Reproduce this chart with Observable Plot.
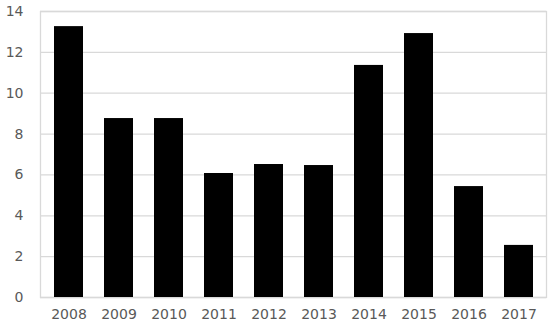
<!DOCTYPE html>
<html><head><meta charset="utf-8">
<script src="https://cdn.jsdelivr.net/npm/d3@7"></script>
<script src="https://cdn.jsdelivr.net/npm/@observablehq/plot@0.6"></script>
<style>
html,body{margin:0;padding:0;background:#fff;}
svg{display:block;}
</style>
</head><body>
<div id="chart"></div>
<script>
const years = ["2008","2009","2010","2011","2012","2013","2014","2015","2016","2017"];
const values = [13.26, 8.76, 8.76, 6.07, 6.51, 6.46, 11.36, 12.92, 5.43, 2.55];
const yTicks = [0, 2, 4, 6, 8, 10, 12, 14];

const data = years.map((y, i) => ({year: y, value: values[i]}));

const chart = Plot.plot({
  width: 555,
  height: 322,
  marginLeft: 40,
  marginRight: 9,
  marginTop: 11,
  marginBottom: 25,
  style: {fontFamily: "'DejaVu Sans', sans-serif", fontSize: "14px", color: "#595959", background: "#fff"},
  x: {domain: years, paddingInner: 0.42, paddingOuter: 0.21, label: null},
  y: {domain: [0, 14], label: null},
  marks: [
    Plot.gridY(yTicks, {stroke: "#d9d9d9", strokeOpacity: 1, strokeWidth: 1.3}),
    Plot.frame({stroke: "#d9d9d9", strokeWidth: 1.3}),
    Plot.barY(data, {x: "year", y: "value", fill: "#000"}),
    Plot.axisX({tickSize: 0, tickPadding: 12, fill: "#595959", fontSize: 14, label: null}),
    Plot.axisY(yTicks, {tickSize: 0, tickPadding: 17, fill: "#595959", fontSize: 14, label: null})
  ]
});
document.getElementById("chart").appendChild(chart);
</script>
</body></html>
